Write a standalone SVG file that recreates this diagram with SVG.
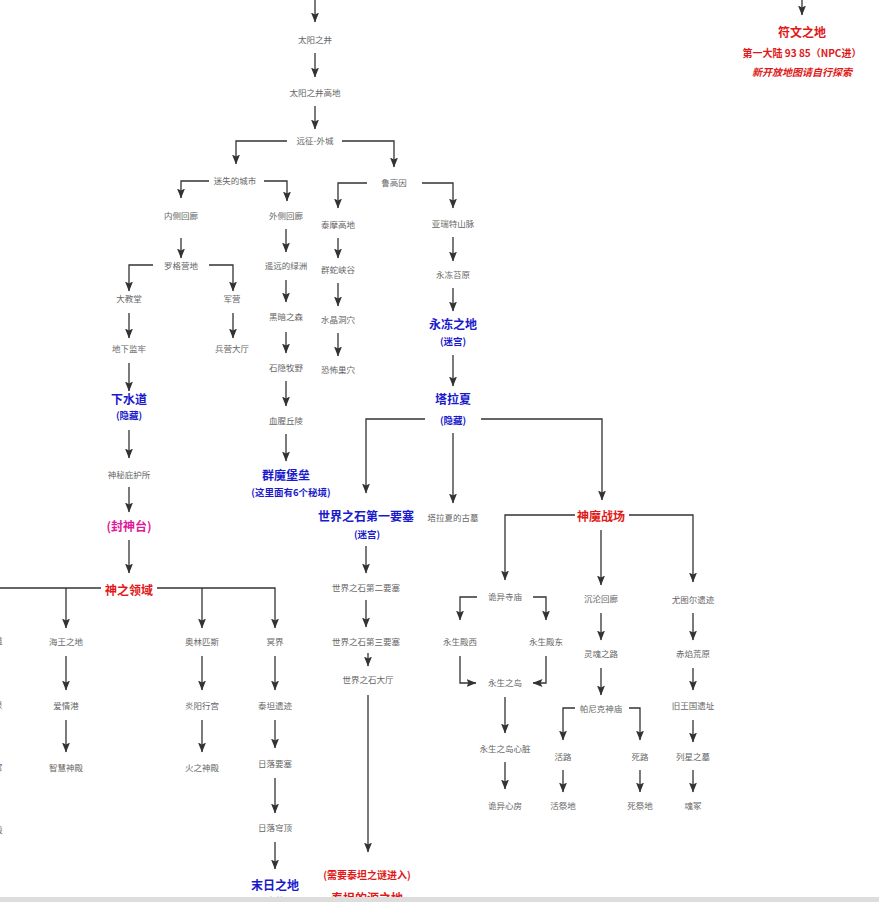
<svg xmlns="http://www.w3.org/2000/svg" width="879" height="902" viewBox="0 0 879 902">
<style>
text{font-family:"Noto Sans CJK SC","Liberation Sans",sans-serif;text-anchor:middle}
.s{font-size:8.5px;fill:#666}
.b{font-size:12px;font-weight:bold;fill:#1a1acc}
.bs{font-size:9.5px;font-weight:bold;fill:#1a1acc}
.r{font-size:12px;font-weight:bold;fill:#e01818}
.rs{font-size:10px;font-weight:bold;fill:#e01818}
.m{font-size:12px;font-weight:bold;fill:#e0189a}
#c path{fill:none;stroke:#333;stroke-width:1.3;marker-end:url(#h)}
</style>
<defs>
<marker id="h" markerWidth="10" markerHeight="8" refX="9.5" refY="4" orient="auto" markerUnits="userSpaceOnUse" viewBox="0 0 10 8"><path d="M0,0 L10,4 L0,8 L2,4 Z" fill="#333"/></marker></defs>
<rect width="879" height="902" fill="#fff"/>
<g id="c">
<path d="M315,0V22"/><path d="M315,53V77"/><path d="M315,106V129"/>
<path d="M287,141H236V164"/><path d="M342,141H394V167"/>
<path d="M209,181H181V198"/><path d="M264,181H287V201"/>
<path d="M181,238V258"/>
<path d="M153,265H129V291"/><path d="M209,265H233V291"/>
<path d="M129,313V338"/><path d="M233,313V338"/>
<path d="M129,363V391"/>
<path d="M129,430V458"/><path d="M129,487V512"/><path d="M129,540V573"/>
<path d="M101,588H0" style="marker-end:none"/><path d="M66,588V628"/><path d="M157,588H275V628"/><path d="M202,588V628"/>
<path d="M66,656V690"/><path d="M66,720V752"/>
<path d="M202,656V690"/><path d="M202,720V752"/>
<path d="M275,656V690"/><path d="M275,720V748"/><path d="M275,778V813"/><path d="M275,842V869"/>
<path d="M286,229V252"/><path d="M286,280V302"/><path d="M286,332V353"/><path d="M286,381V406"/><path d="M286,434V461"/>
<path d="M367,183H338V208"/><path d="M422,183H453V208"/>
<path d="M338,238V258"/><path d="M338,283V306"/><path d="M338,333V356"/>
<path d="M453,237V261"/><path d="M453,288V311"/><path d="M453,355V386"/>
<path d="M425,419H366V493"/><path d="M453,433V503"/><path d="M481,419H602V500"/>
<path d="M366,546V573"/><path d="M366,600V627"/><path d="M368,653V666"/><path d="M368,695V852"/>
<path d="M575,515H505V580"/><path d="M601,530V585"/><path d="M629,515H693V582"/>
<path d="M477,597H460V620"/><path d="M533,597H546V620"/>
<path d="M460,656V683H476"/><path d="M546,656V683H533"/>
<path d="M505,697V733"/><path d="M505,762V789"/>
<path d="M601,613V640"/><path d="M601,668V695"/>
<path d="M575,708H563V740"/><path d="M629,708H640V740"/>
<path d="M563,770V792"/><path d="M640,770V792"/>
<path d="M693,613V640"/><path d="M693,668V690"/><path d="M693,720V742"/><path d="M693,770V792"/>
<path d="M802,0V15"/>
</g>
<g id="n1"><text class="s" x="315" y="43">太阳之井</text></g>
<g id="n2"><text class="s" x="315" y="96">太阳之井高地</text></g>
<g id="n3"><text class="s" x="315" y="144">远征-外城</text></g>
<g id="n4"><text class="s" x="235" y="184">迷失的城市</text></g>
<g id="n5"><text class="s" x="394" y="186">鲁高因</text></g>
<g id="n6"><text class="s" x="181" y="219">内侧回廊</text></g>
<g id="n7"><text class="s" x="286" y="219">外侧回廊</text></g>
<g id="n8"><text class="s" x="181" y="269">罗格营地</text></g>
<g id="n9"><text class="s" x="129" y="302">大教堂</text></g>
<g id="n10"><text class="s" x="232" y="302">军营</text></g>
<g id="n11"><text class="s" x="129" y="352">地下监牢</text></g>
<g id="n12"><text class="s" x="232" y="352">兵营大厅</text></g>
<g id="n13"><text class="b" x="129" y="404">下水道</text><text class="bs" x="129" y="419">(隐藏)</text></g>
<g id="n14"><text class="s" x="129" y="478">神秘庇护所</text></g>
<g id="n15"><text class="m" x="129" y="531">(封神台)</text></g>
<g id="n16"><text class="r" x="129" y="595">神之领域</text></g>
<g id="n17"><text class="s" x="-6" y="644">水道</text><text class="s" x="-6" y="708">之泉</text><text class="s" x="-6" y="770">迷宫</text><text class="s" x="-6" y="833">神殿</text></g>
<g id="n18"><text class="s" x="66" y="645">海王之地</text><text class="s" x="66" y="709">爱情港</text><text class="s" x="66" y="771">智慧神殿</text></g>
<g id="n19"><text class="s" x="202" y="645">奥林匹斯</text><text class="s" x="202" y="709">炎阳行宫</text><text class="s" x="202" y="771">火之神殿</text></g>
<g id="n20"><text class="s" x="275" y="645">冥界</text><text class="s" x="275" y="709">泰坦遗迹</text><text class="s" x="275" y="767">日落要塞</text><text class="s" x="275" y="831">日落穹顶</text><text class="b" x="275" y="890">末日之地</text><text class="bs" x="275" y="905">(隐藏)</text></g>
<g id="n21"><text class="s" x="286" y="269">遥远的绿洲</text><text class="s" x="286" y="320">黑暗之森</text><text class="s" x="286" y="371">石隐牧野</text><text class="s" x="286" y="424">血腥丘陵</text><text class="b" x="286" y="480">群魔堡垒</text><text class="bs" x="291" y="496">(这里面有6个秘境)</text></g>
<g id="n22"><text class="s" x="338" y="228">泰摩高地</text><text class="s" x="338" y="273">群蛇峡谷</text><text class="s" x="338" y="323">水晶洞穴</text><text class="s" x="338" y="373">恐怖巢穴</text></g>
<g id="n23"><text class="s" x="453" y="227">亚瑞特山脉</text><text class="s" x="453" y="278">永冻苔原</text><text class="b" x="453" y="329">永冻之地</text><text class="bs" x="453" y="345">(迷宫)</text></g>
<g id="n24"><text class="b" x="453" y="404">塔拉夏</text><text class="bs" x="453" y="424">(隐藏)</text></g>
<g id="n25"><text class="b" x="366" y="521">世界之石第一要塞</text><text class="bs" x="367" y="538">(迷宫)</text><text class="s" x="366" y="591">世界之石第二要塞</text><text class="s" x="366" y="645">世界之石第三要塞</text><text class="s" x="368" y="683">世界之石大厅</text><text class="rs" x="367" y="879">(需要泰坦之谜进入)</text><text class="r" x="367" y="903">泰坦的源之地</text></g>
<g id="n26"><text class="s" x="453" y="521">塔拉夏的古墓</text></g>
<g id="n27"><text class="r" x="601" y="521">神魔战场</text></g>
<g id="n28"><text class="s" x="505" y="600">诡异寺庙</text><text class="s" x="460" y="645">永生殿西</text><text class="s" x="546" y="645">永生殿东</text><text class="s" x="505" y="686">永生之岛</text><text class="s" x="505" y="752">永生之岛心脏</text><text class="s" x="505" y="809">诡异心房</text></g>
<g id="n29"><text class="s" x="601" y="602">沉沦回廊</text><text class="s" x="601" y="657">灵魂之路</text><text class="s" x="601" y="712">帕尼克神庙</text><text class="s" x="563" y="760">活路</text><text class="s" x="640" y="760">死路</text><text class="s" x="563" y="809">活祭地</text><text class="s" x="640" y="809">死祭地</text></g>
<g id="n30"><text class="s" x="693" y="603">尤图尔遗迹</text><text class="s" x="693" y="657">赤焰荒原</text><text class="s" x="693" y="709">旧王国遗址</text><text class="s" x="693" y="760">列星之墓</text><text class="s" x="693" y="809">魂冢</text></g>
<g id="n31"><text class="r" x="802" y="37">符文之地</text><text class="rs" x="802" y="57">第一大陆   93  85（NPC进）</text><text class="rs" x="802" y="76" font-style="italic">新开放地图请自行探索</text></g>
<rect x="0" y="897" width="879" height="5" fill="#ddd"/>
</svg>
